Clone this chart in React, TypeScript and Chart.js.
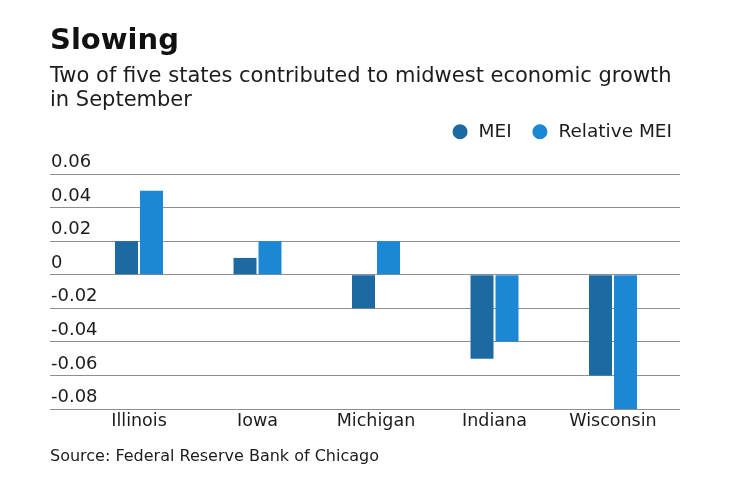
import React, { useEffect, useRef } from "react";
import { Chart, registerables } from "chart.js";

Chart.register(...registerables);

// ---- data ----
const TITLE = "Slowing";
const SUBTITLE_LINES = [
  "Two of five states contributed to midwest economic growth",
  "in September",
];
const SOURCE = "Source: Federal Reserve Bank of Chicago";
const STATES = ["Illinois", "Iowa", "Michigan", "Indiana", "Wisconsin"];
const SERIES_NAMES = ["MEI", "Relative MEI"];
const MEI = [0.02, 0.01, -0.02, -0.05, -0.06];
const RELATIVE_MEI = [0.05, 0.02, 0.02, -0.04, -0.08];
const Y_TICKS = [-0.08, -0.06, -0.04, -0.02, 0, 0.02, 0.04, 0.06];

// ---- styling ----
const FONT = "'DejaVu Sans', sans-serif";
const TEXT = "#1c1c1c";
const DARK_BLUE = "#1d6aa3";
const LIGHT_BLUE = "#1c88d5";
const GRID = "#8e8e8e";
const LEGEND_PAD = 19;
const LEGEND_TOP = 103.5;
const LEGEND_BLOCK = 70.5;
const LEGEND_SHIFT = 11;

const legendLayoutPlugin = {
  id: "legendLayout",
  beforeLayout(chart: any) {
    const lg = chart.legend;
    if (lg && !lg.__patched) {
      const orig = lg.fit.bind(lg);
      lg.fit = function () {
        orig();
        this.height = LEGEND_BLOCK;
      };
      lg.__patched = true;
    }
  },
  afterLayout(chart: any) {
    const lg = chart.legend;
    if (lg) {
      lg.left += LEGEND_SHIFT;
      lg.right += LEGEND_SHIFT;
    }
  },
};

export default function App() {
  const canvasRef = useRef<HTMLCanvasElement | null>(null);

  useEffect(() => {
    if (!canvasRef.current) return;
    const toPoints = (arr: number[]) => arr.map((v, i) => ({ x: i, y: v }));
    const chart = new Chart(canvasRef.current, {
      type: "bar",
      data: {
        datasets: [
          {
            label: SERIES_NAMES[0],
            data: toPoints(MEI),
            backgroundColor: DARK_BLUE,
            borderWidth: 0,
          },
          {
            label: SERIES_NAMES[1],
            data: toPoints(RELATIVE_MEI),
            backgroundColor: LIGHT_BLUE,
            borderWidth: 0,
          },
        ],
      },
      plugins: [legendLayoutPlugin],
      options: {
        responsive: false,
        animation: false,
        devicePixelRatio: 1,
        categoryPercentage: 0.4219,
        barPercentage: 0.92,
        layout: { padding: { left: 48, right: 60, top: LEGEND_TOP, bottom: 48 } },
        plugins: {
          title: { display: false },
          tooltip: { enabled: false },
          legend: {
            display: true,
            position: "top",
            align: "end",
            labels: {
              usePointStyle: true,
              pointStyle: "circle",
              boxWidth: 18.5,
              boxHeight: 10.6,
              padding: LEGEND_PAD,
              color: TEXT,
              font: { family: FONT, size: 18.5 },
            },
          },
        },
        scales: {
          x: {
            type: "linear",
            bounds: "data",
            offset: false,
            min: -0.7511,
            max: 4.5654,
            grid: { display: false, drawTicks: false, offset: false },
            border: { display: false },
            afterBuildTicks: (scale: any) => {
              scale.ticks = STATES.map((_, i) => ({ value: i }));
            },
            ticks: {
              autoSkip: false,
              maxRotation: 0,
              includeBounds: false,
              padding: 2,
              color: TEXT,
              font: { family: FONT, size: 17.5 },
              callback: (value: any) => STATES[Math.round(Number(value))] ?? "",
            },
          },
          y: {
            type: "linear",
            position: "left",
            bounds: "data",
            min: Y_TICKS[0],
            max: Y_TICKS[Y_TICKS.length - 1],
            afterBuildTicks: (scale: any) => {
              scale.ticks = Y_TICKS.map((v) => ({ value: v }));
            },
            grid: {
              color: GRID,
              lineWidth: 1,
              drawTicks: false,
            },
            border: { display: false },
            ticks: {
              mirror: true,
              padding: 1,
              labelOffset: -11.5,
              color: TEXT,
              font: { family: FONT, size: 18 },
              callback: (value: any) => {
                const v = Number(value);
                return Math.abs(v) < 1e-9 ? "0" : v.toFixed(2);
              },
            },
          },
        },
      },
    } as any);
    return () => chart.destroy();
  }, []);

  return (
    <div
      style={{
        position: "absolute",
        left: 0,
        top: 0,
        width: 740,
        height: 482,
        background: "#fff",
        fontFamily: FONT,
        color: TEXT,
        overflow: "hidden",
      }}
    >
      <canvas
        ref={canvasRef}
        width={740}
        height={482}
        style={{ position: "absolute", left: 0, top: 0, width: 740, height: 482, display: "block" }}
      />
      <div
        style={{
          position: "absolute",
          left: 50,
          top: 21.3,
          fontSize: 29,
          lineHeight: "36px",
          fontWeight: 700,
          color: "#111",
          whiteSpace: "nowrap",
        }}
      >
        {TITLE}
      </div>
      <div
        style={{
          position: "absolute",
          left: 50,
          top: 63.2,
          fontSize: 21,
          lineHeight: "24px",
          whiteSpace: "nowrap",
        }}
      >
        {SUBTITLE_LINES.map((l, i) => (
          <div key={i}>{l}</div>
        ))}
      </div>
      <div
        style={{
          position: "absolute",
          left: 50,
          top: 445.5,
          fontSize: 16,
          lineHeight: "20px",
          whiteSpace: "nowrap",
        }}
      >
        {SOURCE}
      </div>
    </div>
  );
}
